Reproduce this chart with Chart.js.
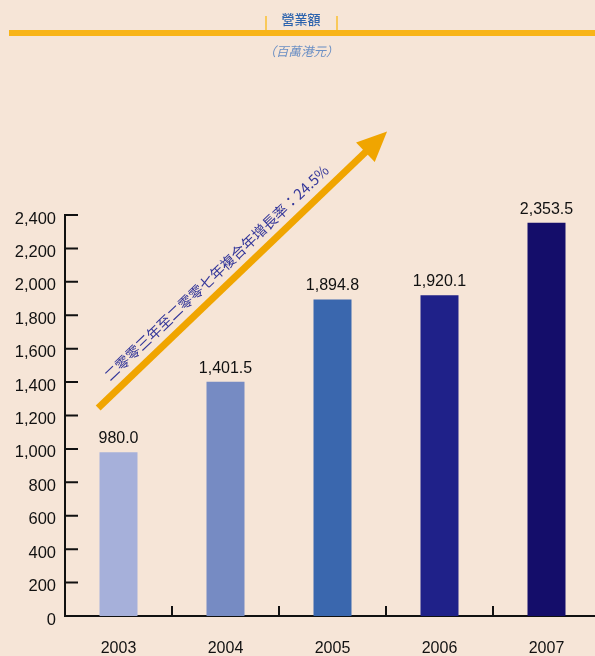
<!DOCTYPE html>
<html>
<head>
<meta charset="utf-8">
<script src="https://cdn.jsdelivr.net/npm/chart.js@4"></script>
<style>
    html, body { margin: 0; padding: 0; overflow: hidden; background: #f6e5d7; }
    #wrap { position: relative; width: 600px; height: 656px; }
    #chartBox { position: absolute; left: 0; top: 0; width: 600px; height: 656px; }
    .head { position: absolute; font-family: "Noto Sans CJK TC", sans-serif; white-space: nowrap; }
    #title { left: 0; width: 602px; top: 10px; text-align: center; font-size: 13px; font-weight: 500; color: #2b62ad; line-height: 18px; }
    #unit { left: 0; width: 602px; top: 42px; text-align: center; font-size: 12.5px; color: #6b8fc4; font-style: italic; line-height: 18px; }
    #rule { position: absolute; left: 9px; top: 30px; width: 600px; height: 6px; background: #f8b418; }
    .mark { position: absolute; top: 16px; width: 2px; height: 14px; background: #f9c95a; }
</style>
</head>
<body>
<div id="wrap">
    <div id="chartBox"><canvas id="revenueChart"></canvas></div>
    <div class="mark" style="left:265px"></div>
    <div class="mark" style="left:336px"></div>
    <div id="rule"></div>
    <div class="head" id="title">營業額</div>
    <div class="head" id="unit">（百萬港元）</div>
</div>
<script>
const years = ["2003", "2004", "2005", "2006", "2007"];
const revenue = [980.0, 1401.5, 1894.8, 1920.1, 2353.5];
const revenueLabels = ["980.0", "1,401.5", "1,894.8", "1,920.1", "2,353.5"];
const barColors = ["#a6b0da", "#768bc3", "#3a67ae", "#1f2189", "#140d6a"];
const yTicks = [0, 200, 400, 600, 800, 1000, 1200, 1400, 1600, 1800, 2000, 2200, 2400];
const growthText = "二零零三年至二零零七年複合年增長率：24.5%";

const NUM_FONT = '"Liberation Sans", Arial, sans-serif';
const AXIS_COLOR = "#111";

// inward tick marks on both axes
const axisTicks = {
    id: "axisTicks",
    afterDraw(chart) {
        const ctx = chart.ctx;
        const x = chart.scales.x;
        const y = chart.scales.y;
        const area = chart.chartArea;
        ctx.save();
        ctx.strokeStyle = AXIS_COLOR;
        ctx.lineWidth = 2;
        ctx.beginPath();
        yTicks.forEach((v) => {
            if (v === 0) return;
            const py = y.getPixelForValue(v);
            ctx.moveTo(area.left, py);
            ctx.lineTo(area.left + 13, py);
        });
        for (let i = 0; i < years.length - 1; i++) {
            const px = x.getPixelForValue(i + 0.5);
            ctx.moveTo(px, area.bottom);
            ctx.lineTo(px, area.bottom - 10);
        }
        ctx.stroke();
        ctx.restore();
    },
};

// value labels above the bars
const barLabels = {
    id: "barLabels",
    afterDatasetsDraw(chart) {
        const ctx = chart.ctx;
        const meta = chart.getDatasetMeta(0);
        ctx.save();
        ctx.font = "16px " + NUM_FONT;
        ctx.fillStyle = "#111";
        ctx.textAlign = "center";
        ctx.textBaseline = "alphabetic";
        meta.data.forEach((bar, i) => {
            ctx.fillText(revenueLabels[i], bar.x, bar.y - 9);
        });
        ctx.restore();
    },
};

// growth arrow with the CAGR note
const growthArrow = {
    id: "growthArrow",
    afterDraw(chart) {
        const ctx = chart.ctx;
        const x = chart.scales.x;
        const y = chart.scales.y;
        const x0 = x.getPixelForValue(-0.19), y0 = y.getPixelForValue(1245);
        const x1 = x.getPixelForValue(2.51), y1 = y.getPixelForValue(2900);
        const len = Math.hypot(x1 - x0, y1 - y0);
        const ang = Math.atan2(y1 - y0, x1 - x0);
        const headLen = 30, headHalf = 13.5;

        ctx.save();
        ctx.translate(x0, y0);
        ctx.rotate(ang);
        ctx.fillStyle = "#f0a500";
        ctx.fillRect(0, -3.5, len - headLen + 1, 7);
        ctx.beginPath();
        ctx.moveTo(len, 0);
        ctx.lineTo(len - headLen, -headHalf);
        ctx.lineTo(len - headLen, headHalf);
        ctx.closePath();
        ctx.fill();

        ctx.font = '100px "Noto Sans CJK TC", sans-serif';
        const w100 = ctx.measureText(growthText).width;
        const size = 100 * 304 / w100;
        ctx.font = size.toFixed(2) + 'px "Noto Sans CJK TC", sans-serif';
        ctx.fillStyle = "#34379a";
        ctx.textAlign = "left";
        ctx.textBaseline = "middle";
        ctx.fillText(growthText, 27, -16);
        ctx.restore();
    },
};

new Chart(document.getElementById("revenueChart"), {
    type: "bar",
    data: {
        labels: years,
        datasets: [
            {
                data: revenue,
                backgroundColor: barColors,
                borderWidth: 0,
                categoryPercentage: 1,
                barPercentage: 0.355,
            },
        ],
    },
    options: {
        responsive: true,
        maintainAspectRatio: false,
        animation: false,
        layout: { padding: { top: 215, left: 0, right: 0, bottom: 0 } },
        plugins: {
            legend: { display: false },
            tooltip: { enabled: false },
        },
        scales: {
            x: {
                grid: { display: false, drawTicks: false },
                border: { display: true, color: AXIS_COLOR, width: 2 },
                ticks: {
                    color: "#111",
                    font: { family: NUM_FONT, size: 16 },
                    padding: 23,
                    maxRotation: 0,
                },
                afterFit(scale) {
                    scale.height = 40;
                },
            },
            y: {
                min: 0,
                max: 2400,
                grid: { display: false, drawTicks: false },
                border: { display: true, color: AXIS_COLOR, width: 2 },
                ticks: {
                    stepSize: 200,
                    color: "#111",
                    font: { family: NUM_FONT, size: 16.5 },
                    padding: 9,
                    labelOffset: 4,
                    callback: (v) => v.toLocaleString("en-US"),
                },
                afterFit(scale) {
                    scale.width = 65;
                },
            },
        },
    },
    plugins: [axisTicks, barLabels, growthArrow],
});
</script>
</body>
</html>
